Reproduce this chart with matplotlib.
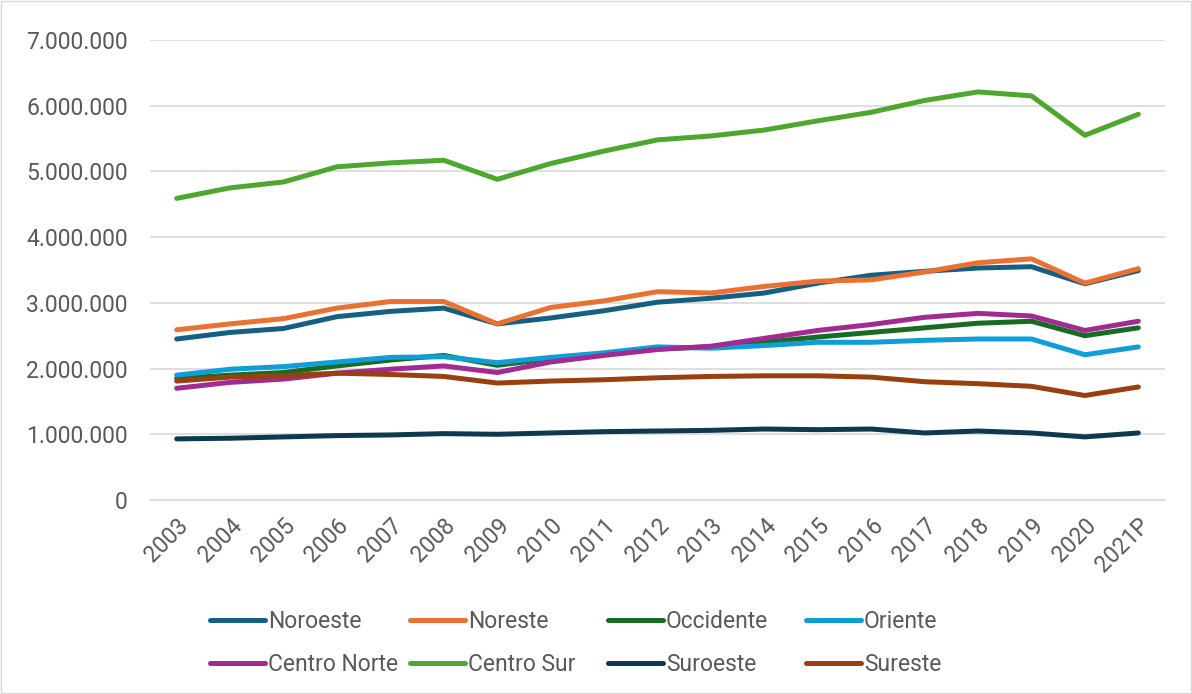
import numpy as np
import matplotlib.pyplot as plt
from matplotlib.ticker import FuncFormatter
from matplotlib.patches import Rectangle

years = ["2003", "2004", "2005", "2006", "2007", "2008", "2009", "2010", "2011", "2012",
         "2013", "2014", "2015", "2016", "2017", "2018", "2019", "2020", "2021P"]

noroeste = [2.45, 2.55, 2.61, 2.79, 2.87, 2.92, 2.68, 2.77, 2.88, 3.01,
            3.07, 3.15, 3.30, 3.42, 3.48, 3.53, 3.55, 3.29, 3.49]
noreste = [2.59, 2.68, 2.76, 2.92, 3.02, 3.02, 2.68, 2.93, 3.03, 3.17,
           3.15, 3.25, 3.33, 3.35, 3.47, 3.61, 3.67, 3.30, 3.52]
occidente = [1.85, 1.90, 1.94, 2.04, 2.13, 2.20, 2.05, 2.15, 2.22, 2.30,
             2.33, 2.40, 2.48, 2.55, 2.62, 2.69, 2.72, 2.50, 2.62]
oriente = [1.90, 1.99, 2.03, 2.10, 2.17, 2.18, 2.09, 2.17, 2.24, 2.33,
           2.31, 2.35, 2.40, 2.40, 2.43, 2.45, 2.45, 2.21, 2.33]
centro_norte = [1.70, 1.79, 1.84, 1.93, 1.99, 2.04, 1.94, 2.10, 2.20, 2.29,
                2.34, 2.46, 2.58, 2.67, 2.78, 2.84, 2.80, 2.58, 2.72]
centro_sur = [4.59, 4.75, 4.84, 5.07, 5.13, 5.17, 4.88, 5.12, 5.31, 5.48,
              5.54, 5.63, 5.77, 5.90, 6.08, 6.21, 6.15, 5.55, 5.87]
suroeste = [0.93, 0.94, 0.96, 0.98, 0.99, 1.01, 1.00, 1.02, 1.04, 1.05,
            1.06, 1.08, 1.07, 1.08, 1.02, 1.05, 1.02, 0.96, 1.02]
sureste = [1.81, 1.87, 1.89, 1.93, 1.91, 1.88, 1.78, 1.81, 1.83, 1.86,
           1.88, 1.89, 1.89, 1.87, 1.80, 1.77, 1.73, 1.59, 1.72]

names = ["Noroeste", "Noreste", "Occidente", "Oriente",
         "Centro Norte", "Centro Sur", "Suroeste", "Sureste"]
series = [noroeste, noreste, occidente, oriente, centro_norte, centro_sur, suroeste, sureste]
colors = ["#156082", "#E97132", "#196B24", "#0F9ED5", "#A02B93", "#4EA72E", "#0E3A4F", "#994010"]

plt.rcParams['font.family'] = ['Roboto', 'DejaVu Sans']
FS = 16.5
GREY = '#595959'

W, H = 1192, 694
fig = plt.figure(figsize=(W / 100, H / 100), dpi=100)
ax = fig.add_axes([150 / W, 1 - 500 / H, 1015 / W, 460 / H])

x = np.arange(len(years))
lines = []
for vals, name, col in zip(series, names, colors):
    ln, = ax.plot(x, np.array(vals) * 1e6, color=col, lw=3.6, label=name,
                  solid_capstyle='round', solid_joinstyle='round')
    lines.append(ln)

ax.set_ylim(0, 7e6)
ax.set_xlim(-0.5, len(years) - 0.5)
ax.set_yticks(np.arange(0, 7e6 + 1, 1e6))
ax.yaxis.set_major_formatter(FuncFormatter(lambda v, p: f"{int(v):,}".replace(",", ".")))
ax.set_xticks(x)
ax.set_xticklabels(years, rotation=45, ha='right', va='top', rotation_mode='anchor')
ax.grid(axis='y', color='#d9d9d9', lw=1.2)
ax.set_axisbelow(True)
for s in ['top', 'right', 'left']:
    ax.spines[s].set_visible(False)
ax.spines['bottom'].set_color('#d9d9d9')
ax.spines['bottom'].set_linewidth(1.2)
ax.tick_params(axis='both', length=0, labelsize=FS, labelcolor=GREY)
ax.tick_params(axis='y', pad=16)
ax.tick_params(axis='x', pad=10)

# legend: 4 columns of equal width, filled row by row like the original
col_x = [210, 410, 608, 806]
for c in range(4):
    leg = fig.legend(handles=[lines[c], lines[c + 4]], loc='center left',
                     bbox_to_anchor=(col_x[c] / W, 1 - 643 / H),
                     frameon=False, fontsize=FS, labelcolor=GREY,
                     handlelength=55 / (FS * 100 / 72), handletextpad=0.12,
                     borderpad=0, borderaxespad=0, labelspacing=0.9)
    for h in leg.get_lines():
        h.set_solid_capstyle('round')

fig.patches.append(Rectangle((0.001, 0.001), 0.998, 0.997, transform=fig.transFigure,
                             fill=False, edgecolor='#d9d9d9', lw=1))

fig.savefig("out.png", dpi=100)
